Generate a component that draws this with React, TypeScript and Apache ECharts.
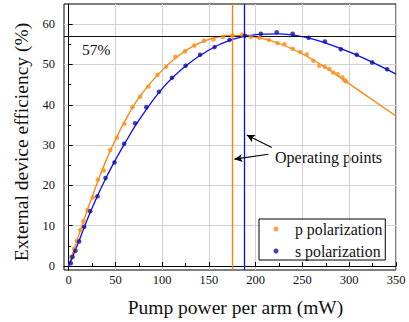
import React, { useEffect, useRef } from "react";
import * as echarts from "echarts";

// p polarization measurements (mW, %)
const pPower = [2.7, 5.9, 8.7, 12.3, 15.8, 20.1, 25.8, 31.2, 37.6, 44.5, 51.5, 59.7, 68.2, 76.4, 85.3, 94.9, 104.2, 114.1, 124.5, 134.4, 144.8, 154.8, 164.8, 175.1, 185.4, 194.7, 203.9, 214, 223.2, 230.6, 239.6, 247.4, 254.6, 261.6, 268, 273.8, 278.7, 283, 287.7, 292.6, 294.8, 296.6];
const pEff = [2.3, 4.3, 6.2, 8.9, 11.1, 13.9, 17.0, 21.4, 23.7, 28.8, 31.8, 35.3, 39.4, 42.0, 44.5, 47.4, 49.4, 51.9, 53.3, 54.7, 55.9, 56.2, 56.8, 57.2, 57.4, 56.8, 56.6, 56.1, 55.3, 55.0, 53.9, 53.1, 52.5, 50.9, 49.7, 49.4, 48.9, 48.0, 47.6, 46.8, 46.1, 45.8];

// s polarization measurements (mW, %)
const sPower = [2.3, 4.1, 7.3, 11.2, 16.6, 23, 30.8, 39.4, 49, 59.3, 71, 83, 96.5, 110.5, 125, 140.5, 156, 172, 188.5, 205.5, 222.5, 239.5, 256.5, 274, 291, 308, 324.5, 340.5];
const sEff = [0.7, 2.2, 3.8, 6.1, 9.7, 13.6, 17.3, 21.8, 25.7, 30.3, 35.4, 39.4, 43.2, 46.7, 49.7, 52.4, 54.3, 56.1, 57.1, 57.6, 58.0, 57.6, 56.6, 55.7, 53.8, 52.4, 50.5, 48.8];

// fitted curves
const pFitPower = [0, 5, 10, 20, 30, 40, 50, 60, 75, 100, 125, 150, 175, 200, 225, 250, 275, 300, 325, 350];
const pFitEff = [0, 3.6, 7.1, 13.9, 20.3, 26.2, 31.3, 35.9, 41.7, 48.6, 53.4, 56.2, 57.2, 56.8, 55.2, 52.6, 49.2, 45.2, 41.2, 37.2];
const sFitPower = [0, 10, 20, 30, 40, 50, 60, 75, 100, 125, 150, 175, 200, 225, 250, 275, 300, 325, 350];
const sFitEff = [0, 5.6, 11.6, 17.0, 21.9, 26.3, 30.4, 36.1, 44.0, 49.6, 53.6, 56.2, 57.4, 57.6, 56.9, 55.3, 53.1, 50.5, 47.6];

// reference lines
const maxEfficiency = 57;
const pOperating = 175;
const sOperating = 188;

// annotation arrows: [from, to] in data coordinates
const arrowToP = [[213.5, 27.7], [177.2, 26.5]];
const arrowToS = [[217.2, 29.4], [190.4, 32.5]];

// ticks
const xMajor = [0, 50, 100, 150, 200, 250, 300, 350];
const xMinor = [25, 75, 125, 175, 225, 275, 325];
const yMajor = [0, 10, 20, 30, 40, 50, 60];
const yMinor = [5, 15, 25, 35, 45, 55];

const seriesNames = ["p polarization", "s polarization"];
const xTitle = "Pump power per arm (mW)";
const yTitle = "External device efficiency (%)";
const maxLabel = "57%";
const annotation = "Operating points";

const ORANGE = "#ff8000";
const ORANGE_DOT = "#f7901c";
const BLUE = "#0a0aff";
const BLUE_DOT = "#1010a8";
const SERIF = "Liberation Serif";

const zip = (a: number[], b: number[]) => a.map((v, i) => [v, b[i]]);

export default function App() {
  const ref = useRef<HTMLDivElement>(null);
  useEffect(() => {
    if (!ref.current) return;
    const chart = echarts.init(ref.current, null, { renderer: "svg" });
    const xBase = { type: "value", min: -5, max: 350 } as any;
    const yBase = { type: "value", min: -1, max: 65 } as any;
    chart.setOption({
      animation: false,
      grid: { left: 64, right: 13, top: 4, bottom: 52, show: true, borderColor: "#000", borderWidth: 1, backgroundColor: "transparent" },
      xAxis: [
        {
          ...xBase,
          name: xTitle,
          nameLocation: "middle",
          nameGap: 27,
          nameTextStyle: { fontFamily: SERIF, fontSize: 19.5, color: "#111", padding: [0, 0, 0, 11] },
          axisLine: { show: true, lineStyle: { color: "#000", width: 1 } },
          axisTick: { show: true, inside: true, length: 4, customValues: xMajor, lineStyle: { color: "#000" } },
          axisLabel: { customValues: xMajor, fontFamily: SERIF, fontSize: 12.5, color: "#111", margin: 3 },
          splitLine: { show: true, lineStyle: { color: "#d2d2d2", width: 1 } },
        },
        {
          ...xBase,
          position: "bottom",
          axisLine: { show: false },
          axisTick: { show: true, inside: true, length: 3, customValues: xMinor, lineStyle: { color: "#000" } },
          axisLabel: { show: false },
          splitLine: { show: false },
        },
      ],
      yAxis: [
        {
          ...yBase,
          name: yTitle,
          nameLocation: "middle",
          nameGap: 33,
          nameTextStyle: { fontFamily: SERIF, fontSize: 19.5, color: "#111", padding: [0, 10, 0, 0] },
          axisLine: { show: true, lineStyle: { color: "#000", width: 1 } },
          axisTick: { show: true, inside: true, length: 4, customValues: yMajor, lineStyle: { color: "#000" } },
          axisLabel: { customValues: yMajor, fontFamily: SERIF, fontSize: 12.5, color: "#111", margin: 9 },
          splitLine: { show: true, lineStyle: { color: "#d2d2d2", width: 1 } },
        },
        {
          ...yBase,
          position: "left",
          axisLine: { show: false },
          axisTick: { show: true, inside: true, length: 2.5, customValues: yMinor, lineStyle: { color: "#000" } },
          axisLabel: { show: false },
          splitLine: { show: false },
        },
      ],
      legend: {
        data: seriesNames,
        orient: "vertical",
        left: 259,
        top: 219,
        padding: [2, 3, 1, 14.5],
        itemGap: 6,
        itemWidth: 5,
        itemHeight: 5,
        icon: "circle",
        backgroundColor: "#fff",
        borderColor: "#000",
        borderWidth: 1,
        borderRadius: 0,
        formatter: (name: string) => `{n|${name}}`,
        textStyle: {
          fontFamily: SERIF,
          fontSize: 15.8,
          color: "#111",
          lineHeight: 16,
          rich: { n: { fontFamily: SERIF, fontSize: 15.8, color: "#111", lineHeight: 16, padding: [0, 0, 0, 11.5] } },
        },
      },
      series: [
        {
          type: "line",
          name: "p fit",
          data: zip(pFitPower, pFitEff),
          smooth: 0.4,
          showSymbol: false,
          symbol: "none",
          lineStyle: { color: ORANGE, width: 1.3 },
          itemStyle: { color: ORANGE },
          z: 3,
          markLine: {
            silent: true,
            symbol: "none",
            label: { show: false },
            lineStyle: { color: ORANGE, width: 1.3, type: "solid" },
            data: [{ xAxis: pOperating }],
          },
        },
        {
          type: "line",
          name: "s fit",
          data: zip(sFitPower, sFitEff),
          smooth: 0.4,
          showSymbol: false,
          symbol: "none",
          lineStyle: { color: BLUE, width: 1.3 },
          itemStyle: { color: BLUE },
          z: 3,
          markLine: {
            silent: true,
            symbol: "none",
            label: { show: false },
            lineStyle: { color: BLUE, width: 1.3, type: "solid" },
            data: [{ xAxis: sOperating }],
          },
        },
        {
          type: "scatter",
          name: seriesNames[0],
          data: zip(pPower, pEff),
          symbol: "circle",
          symbolSize: 4.6,
          itemStyle: { color: ORANGE_DOT },
          z: 5,
          markLine: {
            silent: true,
            symbol: ["none", "arrow"],
            symbolSize: [6, 8],
            label: { show: false },
            lineStyle: { color: "#000", width: 1.1, type: "solid" },
            data: [
              [{ coord: arrowToP[0] }, { coord: arrowToP[1] }],
              [{ coord: arrowToS[0] }, { coord: arrowToS[1] }],
            ],
          },
        },
        {
          type: "scatter",
          name: seriesNames[1],
          data: zip(sPower, sEff),
          symbol: "circle",
          symbolSize: 4.6,
          itemStyle: { color: BLUE_DOT },
          z: 5,
          markLine: {
            silent: true,
            symbol: "none",
            label: { show: false },
            lineStyle: { color: "#111", width: 1.2, type: "solid" },
            data: [{ yAxis: maxEfficiency }],
          },
        },
      ],
      graphic: [
        {
          type: "text",
          x: 82,
          y: 49,
          style: { text: maxLabel, fontFamily: SERIF, fontSize: 15.5, fill: "#111", verticalAlign: "middle" },
        },
        {
          type: "text",
          x: 275,
          y: 157,
          style: { text: annotation, fontFamily: SERIF, fontSize: 16, fill: "#111", verticalAlign: "middle" },
        },
      ],
    });
    return () => chart.dispose();
  }, []);
  return <div ref={ref} style={{ width: 409, height: 322, position: "absolute", left: 0, top: 0 }} />;
}
